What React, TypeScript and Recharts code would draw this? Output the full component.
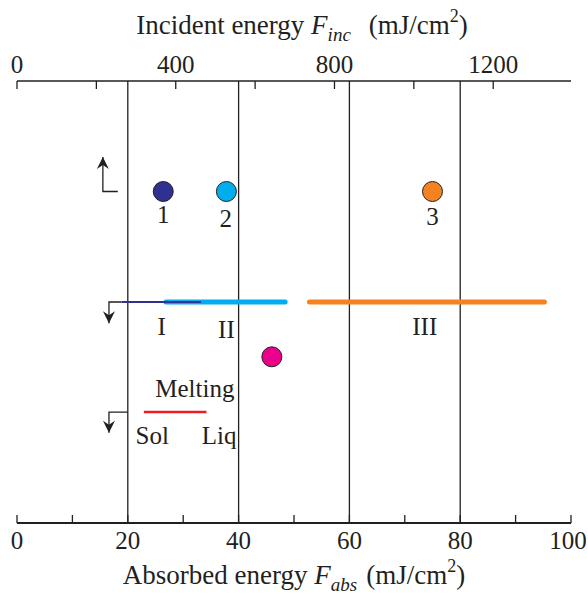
import { ComposedChart, XAxis, YAxis, Line, Scatter, ReferenceLine } from "recharts";

const FONT = '"Liberation Serif", "Times New Roman", serif';
const INK = "#231f20";

// axes
const absTicks = [0, 10, 20, 30, 40, 50, 60, 70, 80, 90, 100];
const absLabelStep = 20;
const gridLines = [20, 40, 60, 80];
const incTicks = [0, 200, 400, 600, 800, 1000, 1200];
const incLabelStep = 400;
const INC_MAX = 1396; // incident energy at F_abs = 100

// measured points (x = absorbed energy, y = arbitrary row)
const point1 = [{ x: 26.4, y: 75 }];
const point2 = [{ x: 37.8, y: 75 }];
const point3 = [{ x: 75, y: 75 }];
const pointPink = [{ x: 46, y: 37.6 }];

// ranges
const rangeI = [{ x: 18.9, y: 50 }, { x: 33.2, y: 50 }];
const rangeII = [{ x: 26.9, y: 50 }, { x: 48.4, y: 50 }];
const rangeIII = [{ x: 52.8, y: 50 }, { x: 95.2, y: 50 }];
const melting = [{ x: 22.9, y: 25.1 }, { x: 34.2, y: 25.1 }];

// bracket arrows
const arrowUp = [{ x: 18.2, y: 75 }, { x: 15.5, y: 75 }, { x: 15.5, y: 82.8 }];
const arrowDown1 = [{ x: 18.9, y: 50 }, { x: 16.6, y: 50 }, { x: 16.6, y: 45.2 }];
const arrowDown2 = [{ x: 20, y: 25.1 }, { x: 16.6, y: 25.1 }, { x: 16.6, y: 20.4 }];

const labels = [
  { x: 26.4, y: 67.8, text: "1" },
  { x: 37.7, y: 67.0, text: "2" },
  { x: 75, y: 67.4, text: "3" },
  { x: 26.1, y: 42.5, text: "I" },
  { x: 37.8, y: 41.8, text: "II" },
  { x: 73.6, y: 42.5, text: "III" },
  { x: 32.1, y: 28.4, text: "Melting" },
  { x: 24.4, y: 17.8, text: "Sol" },
  { x: 36.5, y: 17.8, text: "Liq" },
];

function dotShape(fill: string) {
  return (p: any) => (
    <circle cx={p.cx} cy={p.cy} r={10} fill={fill} stroke={INK} strokeWidth={1} />
  );
}

function arrowDot(last: number, up: boolean) {
  return (p: any) => {
    if (p.index !== last) return <g key={`a${p.index}`} />;
    const s = up ? 1 : -1;
    return (
      <path
        key={`a${p.index}`}
        d={`M${p.cx},${p.cy} L${p.cx - 6},${p.cy + s * 12} L${p.cx},${p.cy + s * 8} L${p.cx + 6},${p.cy + s * 12} Z`}
        fill={INK}
      />
    );
  };
}

// tick marks point into the plot; only every `step` value gets a number
function InTick(props: any) {
  const { x, y, payload, top, step, shiftLast } = props;
  const v = payload.value;
  const axisY = top ? y + 8 : y - 8;
  const innerY = top ? axisY + 8 : axisY - 8;
  return (
    <g>
      <line x1={x} x2={x} y1={axisY} y2={innerY} stroke={INK} strokeWidth={1.3} />
      {v % step === 0 && (
        <text
          x={x}
          y={y}
          dx={v === shiftLast ? -3 : 0}
          dy={top ? 0 : "0.71em"}
          textAnchor="middle"
          fontSize={25}
          fontFamily={FONT}
          fill={INK}
        >
          {v}
        </text>
      )}
    </g>
  );
}

function AxisTitle(props: any) {
  const { viewBox, kind } = props;
  const cx = viewBox.x + viewBox.width / 2;
  if (kind === "top") {
    return (
      <text x={cx + 8} y={viewBox.y - 17} textAnchor="middle" fontSize={27} fontFamily={FONT} fill={INK}>
        Incident energy <tspan fontStyle="italic">F</tspan>
        <tspan fontStyle="italic" fontSize={19} dy={7}>inc</tspan>
        <tspan dy={-7} dx={18}>(mJ/cm</tspan>
        <tspan fontSize={18} dy={-12}>2</tspan>
        <tspan dy={12}>)</tspan>
      </text>
    );
  }
  return (
    <text x={cx} y={viewBox.y + 60.5} textAnchor="middle" fontSize={27} fontFamily={FONT} fill={INK}>
      Absorbed energy <tspan fontStyle="italic">F</tspan>
      <tspan fontStyle="italic" fontSize={19} dy={7}>abs</tspan>
      <tspan dy={-7} dx={9}>(mJ/cm</tspan>
      <tspan fontSize={18} dy={-12}>2</tspan>
      <tspan dy={12}>)</tspan>
    </text>
  );
}

export default function App() {
  return (
    <div style={{ position: "absolute", left: 0, top: 0, width: 588, height: 595, background: "#fff" }}>
      <ComposedChart width={588} height={595} margin={{ top: 51, right: 17, left: 17, bottom: 27 }}>
        <XAxis
          xAxisId="bottom"
          dataKey="x"
          type="number"
          domain={[0, 100]}
          allowDataOverflow
          ticks={absTicks}
          interval={0}
          tickLine={false}
          axisLine={{ stroke: INK, strokeWidth: 2 }}
          tick={<InTick top={false} step={absLabelStep} shiftLast={100} />}
          height={45}
          label={<AxisTitle kind="bottom" />}
        />
        <XAxis
          xAxisId="top"
          orientation="top"
          dataKey="x"
          type="number"
          domain={[0, INC_MAX]}
          allowDataOverflow
          ticks={incTicks}
          interval={0}
          tickLine={false}
          axisLine={{ stroke: INK, strokeWidth: 1.3 }}
          tick={<InTick top={true} step={incLabelStep} />}
          height={30}
          label={<AxisTitle kind="top" />}
        />
        <YAxis yAxisId="left" dataKey="y" type="number" domain={[0, 100]} allowDataOverflow width={0} tick={false} tickLine={false} axisLine={{ stroke: INK, strokeWidth: 1.3 }} />
        <YAxis yAxisId="right" orientation="right" type="number" domain={[0, 100]} allowDataOverflow width={0} tick={false} tickLine={false} axisLine={{ stroke: INK, strokeWidth: 1.3 }} />

        {gridLines.map((g) => (
          <ReferenceLine key={`g${g}`} xAxisId="bottom" yAxisId="left" x={g} stroke={INK} strokeWidth={1.3} />
        ))}

        <Line xAxisId="bottom" yAxisId="left" data={rangeII} dataKey="y" stroke="#00aeef" strokeWidth={5} strokeLinecap="round" dot={false} isAnimationActive={false} />
        <Line xAxisId="bottom" yAxisId="left" data={rangeI} dataKey="y" stroke="#2e3192" strokeWidth={2} dot={false} isAnimationActive={false} />
        <Line xAxisId="bottom" yAxisId="left" data={rangeIII} dataKey="y" stroke="#f58220" strokeWidth={5} strokeLinecap="round" dot={false} isAnimationActive={false} />
        <Line xAxisId="bottom" yAxisId="left" data={melting} dataKey="y" stroke="#ed1c24" strokeWidth={2.5} dot={false} isAnimationActive={false} />

        <Line xAxisId="bottom" yAxisId="left" data={arrowUp} dataKey="y" stroke={INK} strokeWidth={1.3} dot={arrowDot(2, true)} isAnimationActive={false} />
        <Line xAxisId="bottom" yAxisId="left" data={arrowDown1} dataKey="y" stroke={INK} strokeWidth={1.3} dot={arrowDot(2, false)} isAnimationActive={false} />
        <Line xAxisId="bottom" yAxisId="left" data={arrowDown2} dataKey="y" stroke={INK} strokeWidth={1.3} dot={arrowDot(2, false)} isAnimationActive={false} />

        <Scatter xAxisId="bottom" yAxisId="left" data={point1} shape={dotShape("#2e3192")} isAnimationActive={false} />
        <Scatter xAxisId="bottom" yAxisId="left" data={point2} shape={dotShape("#00aeef")} isAnimationActive={false} />
        <Scatter xAxisId="bottom" yAxisId="left" data={point3} shape={dotShape("#f58220")} isAnimationActive={false} />
        <Scatter xAxisId="bottom" yAxisId="left" data={pointPink} shape={dotShape("#ec008c")} isAnimationActive={false} />

        <Scatter
          xAxisId="bottom"
          yAxisId="left"
          data={labels}
          isAnimationActive={false}
          shape={(p: any) => (
            <text x={p.cx} y={p.cy} textAnchor="middle" fontSize={25} fontFamily={FONT} fill={INK}>
              {p.payload.text}
            </text>
          )}
        />
      </ComposedChart>
    </div>
  );
}
